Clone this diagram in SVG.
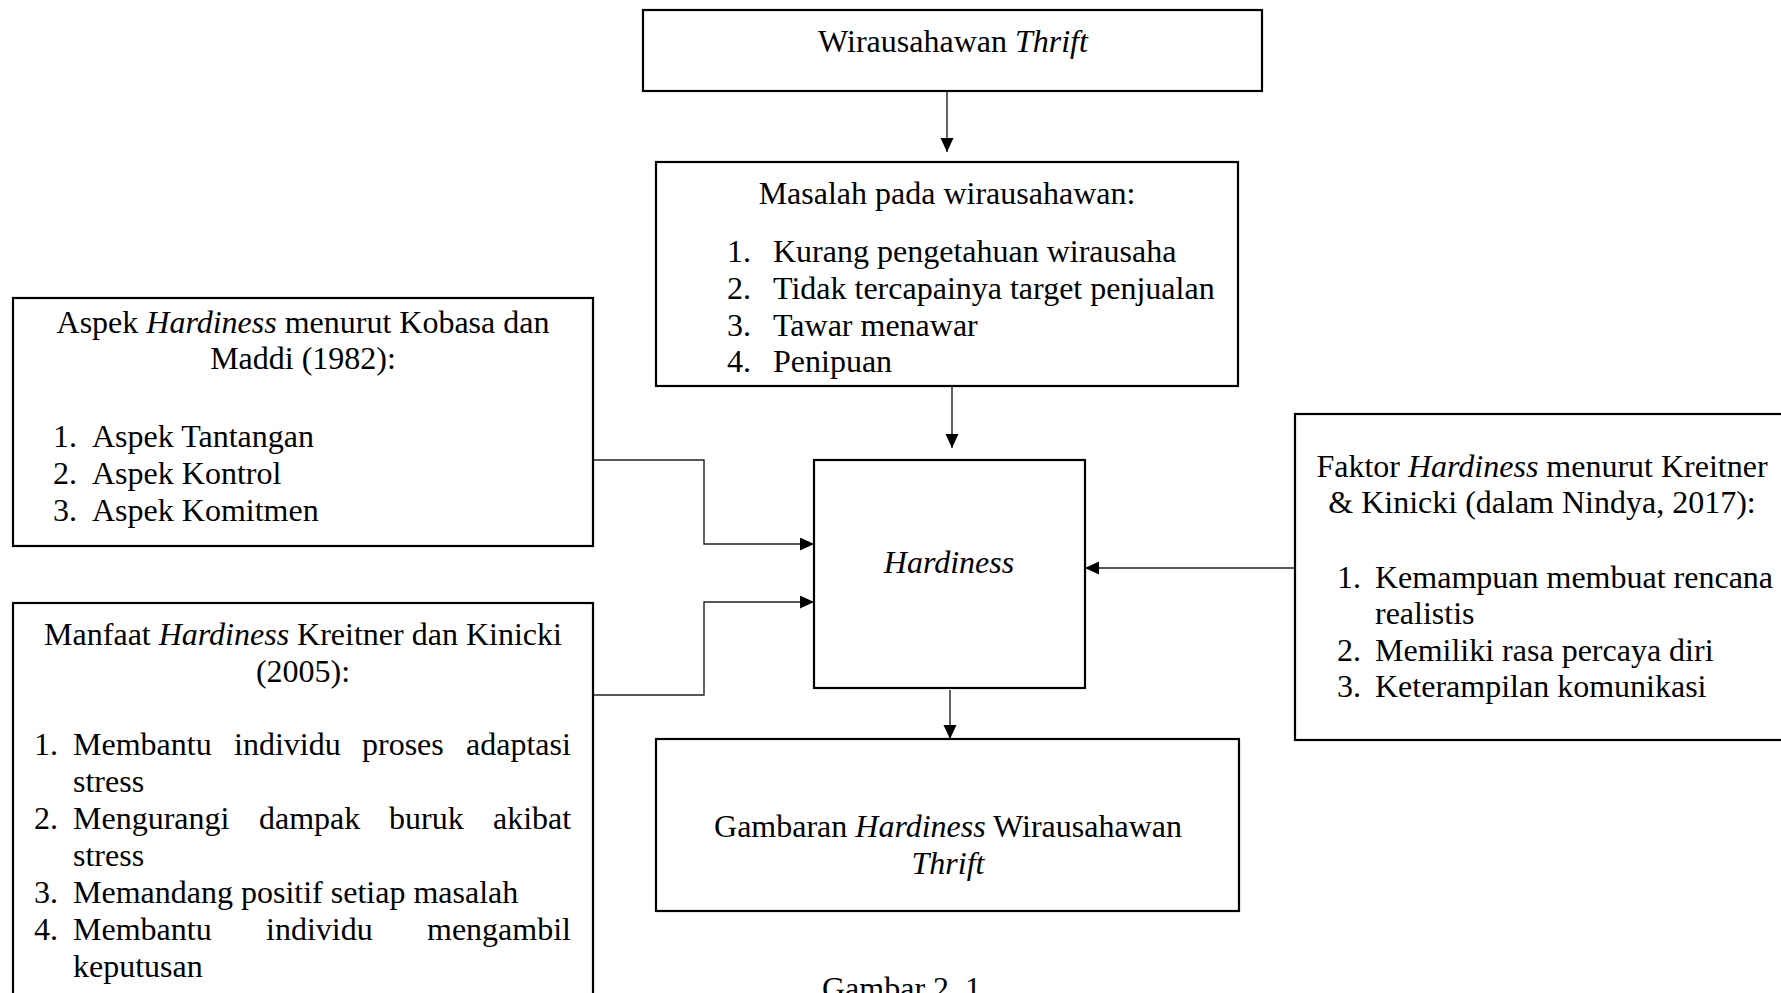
<svg xmlns="http://www.w3.org/2000/svg" width="1781" height="993" viewBox="0 0 1781 993">
  <style>
    .box { fill: #ffffff; stroke: #000000; stroke-width: 2.2; }
    .wire { fill: none; stroke: #222222; stroke-width: 1.4; }
    text { font-family: "Liberation Serif", "Times New Roman", serif; font-size: 32px; fill: #000000; }
    .c { text-anchor: middle; }
    .e { text-anchor: end; }
    .i { font-style: italic; }
  </style>
  <defs>
    <marker id="arrow" markerUnits="userSpaceOnUse" markerWidth="14" markerHeight="14" refX="14" refY="6.5" orient="auto">
      <path d="M0,0 L14,6.5 L0,13 Z" fill="#000000"/>
    </marker>
  </defs>

  <rect width="1781" height="993" fill="#ffffff"/>

  <!-- connectors -->
  <g id="connectors">
    <line class="wire" x1="947" y1="91" x2="947" y2="152" marker-end="url(#arrow)"/>
    <line class="wire" x1="952" y1="386" x2="952" y2="448" marker-end="url(#arrow)"/>
    <line class="wire" x1="950" y1="690" x2="950" y2="739" marker-end="url(#arrow)"/>
    <polyline class="wire" points="593,460 704,460 704,544 814,544" marker-end="url(#arrow)"/>
    <polyline class="wire" points="593,695 704,695 704,602 814,602" marker-end="url(#arrow)"/>
    <line class="wire" x1="1295" y1="568" x2="1085" y2="568" marker-end="url(#arrow)"/>
  </g>

  <!-- top: entrepreneurs -->
  <g id="wirausahawan">
    <rect class="box" x="643" y="10" width="619" height="81"/>
    <text class="c" x="953" y="52">Wirausahawan <tspan class="i">Thrift</tspan></text>
  </g>

  <!-- problems faced -->
  <g id="masalah">
    <rect class="box" x="656" y="162" width="582" height="224"/>
    <text class="c" x="947" y="204">Masalah pada wirausahawan:</text>
    <text x="727" y="262">1.</text><text x="773" y="262">Kurang pengetahuan wirausaha</text>
    <text x="727" y="299">2.</text><text x="773" y="299">Tidak tercapainya target penjualan</text>
    <text x="727" y="336">3.</text><text x="773" y="336">Tawar menawar</text>
    <text x="727" y="372">4.</text><text x="773" y="372">Penipuan</text>
  </g>

  <!-- central concept -->
  <g id="hardiness">
    <rect class="box" x="814" y="460" width="271" height="228"/>
    <text class="c i" x="949" y="573">Hardiness</text>
  </g>

  <!-- outcome -->
  <g id="gambaran">
    <rect class="box" x="656" y="739" width="583" height="172"/>
    <text class="c" x="948" y="837">Gambaran <tspan class="i">Hardiness</tspan> Wirausahawan</text>
    <text class="c i" x="948" y="874">Thrift</text>
  </g>

  <!-- aspects -->
  <g id="aspek">
    <rect class="box" x="13" y="298" width="580" height="248"/>
    <text class="c" x="303" y="333">Aspek <tspan class="i">Hardiness</tspan> menurut Kobasa dan</text>
    <text class="c" x="303" y="369">Maddi (1982):</text>
    <text x="53" y="447">1.</text><text x="92" y="447">Aspek Tantangan</text>
    <text x="53" y="484">2.</text><text x="92" y="484">Aspek Kontrol</text>
    <text x="53" y="521">3.</text><text x="92" y="521">Aspek Komitmen</text>
  </g>

  <!-- benefits -->
  <g id="manfaat">
    <rect class="box" x="13" y="603" width="580" height="420"/>
    <text class="c" x="303" y="645">Manfaat <tspan class="i">Hardiness</tspan> Kreitner dan Kinicki</text>
    <text class="c" x="303" y="682">(2005):</text>
    <text x="34" y="755">1.</text>
    <text y="755"><tspan x="73">Membantu</tspan><tspan x="234">individu</tspan><tspan x="362">proses</tspan><tspan x="466">adaptasi</tspan></text>
    <text x="73" y="792">stress</text>
    <text x="34" y="829">2.</text>
    <text y="829"><tspan x="73">Mengurangi</tspan><tspan x="259">dampak</tspan><tspan x="389">buruk</tspan><tspan x="493">akibat</tspan></text>
    <text x="73" y="866">stress</text>
    <text x="34" y="903">3.</text><text x="73" y="903">Memandang positif setiap masalah</text>
    <text x="34" y="940">4.</text>
    <text y="940"><tspan x="73">Membantu</tspan><tspan x="266">individu</tspan><tspan x="427">mengambil</tspan></text>
    <text x="73" y="977">keputusan</text>
  </g>

  <!-- factors -->
  <g id="faktor">
    <rect class="box" x="1295" y="414" width="495" height="326"/>
    <text class="c" x="1542" y="477">Faktor <tspan class="i">Hardiness</tspan> menurut Kreitner</text>
    <text class="c" x="1542" y="513">&amp; Kinicki (dalam Nindya, 2017):</text>
    <text x="1337" y="588">1.</text><text x="1375" y="588">Kemampuan membuat rencana</text>
    <text x="1375" y="624">realistis</text>
    <text x="1337" y="661">2.</text><text x="1375" y="661">Memiliki rasa percaya diri</text>
    <text x="1337" y="697">3.</text><text x="1375" y="697">Keterampilan komunikasi</text>
  </g>

  <!-- caption -->
  <g id="caption">
    <text x="822" y="999">Gambar 2. 1</text>
  </g>
</svg>
